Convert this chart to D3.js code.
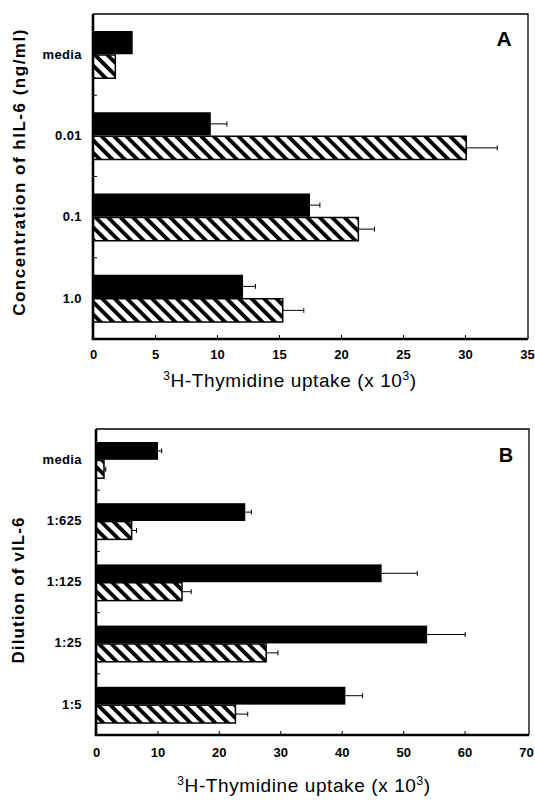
<!DOCTYPE html>
<html>
<head>
<meta charset="utf-8">
<script src="https://cdn.jsdelivr.net/npm/d3@7"></script>
<style>
  body { margin: 0; background: #fff; }
  text { font-family: "Liberation Sans", Arial, sans-serif; fill: #000; }
</style>
</head>
<body>
<div id="chart"></div>
<script>
// panel A - hIL-6 concentration
let catsA = ["media", "0.01", "0.1", "1.0"];
let blackA = [3.2, 9.5, 17.5, 12.1];
let blackErrA = [0, 1.3, 0.8, 1.0];
let hatchA = [1.8, 30.1, 21.4, 15.3];
let hatchErrA = [0, 2.5, 1.3, 1.7];
let ticksA = [0, 5, 10, 15, 20, 25, 30, 35];

// panel B - vIL-6 dilution
let catsB = ["media", "1:625", "1:125", "1:25", "1:5"];
let blackB = [10.1, 24.3, 46.5, 53.9, 40.6];
let blackErrB = [0.6, 1.0, 5.8, 6.2, 2.8];
let hatchB = [1.3, 5.8, 14.0, 27.7, 22.7];
let hatchErrB = [0.3, 0.8, 1.5, 1.9, 2.0];
let ticksB = [0, 10, 20, 30, 40, 50, 60, 70];

let svg = d3.select("#chart")
  .append("svg")
  .attr("width", 535)
  .attr("height", 801)
  .style("background-color", "white");

// diagonal hatch "\\\"
let pat = svg.append("defs")
  .append("pattern")
  .attr("id", "hatch")
  .attr("patternUnits", "userSpaceOnUse")
  .attr("width", 8.8)
  .attr("height", 8.8)
  .attr("patternTransform", "rotate(-45)");
pat.append("rect").attr("width", 8.8).attr("height", 8.8).attr("fill", "white");
pat.append("rect").attr("x", 0).attr("width", 3.8).attr("height", 8.8).attr("fill", "black");

function panel(cfg) {
  let g = svg.append("g");
  let x = d3.scaleLinear().domain([0, cfg.ticks[cfg.ticks.length - 1]]).range([cfg.x0, cfg.x1]);
  let y = d3.scaleBand().domain(cfg.cats).range([cfg.top, cfg.bottom]);
  let s = d3.scaleBand().domain(["black", "hatch"])
    .range([cfg.padTop, y.bandwidth() - cfg.padBot]).paddingInner(0.03);

  let rows = cfg.cats.map((c, i) => [
    { cat: c, key: "black", v: cfg.black[i], e: cfg.blackErr[i] },
    { cat: c, key: "hatch", v: cfg.hatch[i], e: cfg.hatchErr[i] }
  ]).flat();

  // bars
  g.selectAll("rect.bar")
    .data(rows)
    .join("rect")
    .attr("class", "bar")
    .attr("x", x(0))
    .attr("y", d => y(d.cat) + s(d.key))
    .attr("width", d => x(d.v) - x(0))
    .attr("height", s.bandwidth())
    .attr("fill", d => d.key == "black" ? "#000" : "url(#hatch)")
    .attr("stroke", "#000")
    .attr("stroke-width", d => d.key == "black" ? 0 : 1.5);

  // error bars
  let eb = rows.filter(d => d.e > 0);
  g.selectAll("line.err")
    .data(eb)
    .join("line")
    .attr("x1", d => x(d.v))
    .attr("x2", d => x(d.v + d.e))
    .attr("y1", d => y(d.cat) + s(d.key) + s.bandwidth() / 2)
    .attr("y2", d => y(d.cat) + s(d.key) + s.bandwidth() / 2)
    .attr("stroke", "#000").attr("stroke-width", 1);
  g.selectAll("line.cap")
    .data(eb)
    .join("line")
    .attr("x1", d => x(d.v + d.e))
    .attr("x2", d => x(d.v + d.e))
    .attr("y1", d => y(d.cat) + s(d.key) + s.bandwidth() / 2 - 2.5)
    .attr("y2", d => y(d.cat) + s(d.key) + s.bandwidth() / 2 + 2.5)
    .attr("stroke", "#000").attr("stroke-width", 1);

  // frame: thin top/right, heavy left/bottom
  g.append("path")
    .attr("d", `M${cfg.x0},${cfg.top}H${cfg.right}V${cfg.bottom}`)
    .attr("fill", "none").attr("stroke", "#000").attr("stroke-width", 1.3);

  // bottom axis
  let xa = g.append("g")
    .attr("transform", `translate(0,${cfg.bottom})`)
    .call(d3.axisBottom(x).tickValues(cfg.ticks).tickSizeInner(-4).tickSizeOuter(0).tickPadding(cfg.xPad));
  xa.select(".domain").attr("stroke-width", 2.6).attr("d", `M${cfg.x0 - 1.3},0H${cfg.right}`);
  xa.selectAll(".tick line").attr("stroke-width", 1)
    .filter(d => d == 0 || d == cfg.ticks[cfg.ticks.length - 1]).remove();
  xa.selectAll("text").style("font-size", "13px").style("font-weight", "bold").attr("font-family", null);

  // left axis: category labels at band centres, ticks at band boundaries
  let ya = g.append("g")
    .attr("transform", `translate(${cfg.x0},0)`)
    .call(d3.axisLeft(y).tickSize(0).tickPadding(cfg.yPad));
  ya.select(".domain").attr("stroke-width", 2.6).attr("d", `M0,${cfg.top}V${cfg.bottom}`);
  ya.selectAll("text").style("font-size", "13px").style("font-weight", "bold")
    .style("letter-spacing", "0.4px").attr("font-family", null);
  g.selectAll("line.sep")
    .data(cfg.cats.slice(1))
    .join("line")
    .attr("x1", cfg.x0).attr("x2", cfg.x0 + 4)
    .attr("y1", d => y(d)).attr("y2", d => y(d))
    .attr("stroke", "#000").attr("stroke-width", 1);

  // titles
  g.append("text")
    .attr("transform", `translate(${cfg.yTitleX},${cfg.yTitleY}) rotate(-90)`)
    .attr("text-anchor", "middle")
    .attr("dy", "0.35em")
    .style("font-size", "17px").style("font-weight", "bold").style("letter-spacing", cfg.ySpacing)
    .text(cfg.yTitle);

  let xt = g.append("text")
    .attr("x", cfg.xTitleX).attr("y", cfg.xTitleY)
    .attr("text-anchor", "middle")
    .style("font-size", "19px").style("letter-spacing", "0.6px");
  xt.append("tspan").attr("baseline-shift", "super").style("font-size", "12px").text("3");
  xt.append("tspan").text("H-Thymidine uptake (x 10");
  xt.append("tspan").attr("baseline-shift", "super").style("font-size", "12px").text("3");
  xt.append("tspan").text(")");

  g.append("text")
    .attr("x", cfg.letterX).attr("y", cfg.letterY)
    .attr("text-anchor", "middle").attr("dy", "0.36em")
    .style("font-size", cfg.letterSize).style("font-weight", "bold")
    .text(cfg.letter);
}

panel({
  cats: catsA, black: blackA, blackErr: blackErrA, hatch: hatchA, hatchErr: hatchErrA, ticks: ticksA,
  x0: 93, x1: 527, right: 528, top: 14, bottom: 339, padTop: 17, padBot: 17,
  xPad: 11, yPad: 11,
  yTitle: "Concentration of hIL-6 (ng/ml)", yTitleX: 19, yTitleY: 172, ySpacing: "1.5px",
  xTitleX: 290, xTitleY: 387,
  letter: "A", letterX: 504, letterY: 38, letterSize: "21px"
});

panel({
  cats: catsB, black: blackB, blackErr: blackErrB, hatch: hatchB, hatchErr: hatchErrB, ticks: ticksB,
  x0: 96, x1: 526, right: 529, top: 429, bottom: 735, padTop: 13, padBot: 12,
  xPad: 13, yPad: 14,
  yTitle: "Dilution of vIL-6", yTitleX: 18, yTitleY: 590, ySpacing: "1.1px",
  xTitleX: 304, xTitleY: 792,
  letter: "B", letterX: 506, letterY: 455, letterSize: "20px"
});
</script>
</body>
</html>
